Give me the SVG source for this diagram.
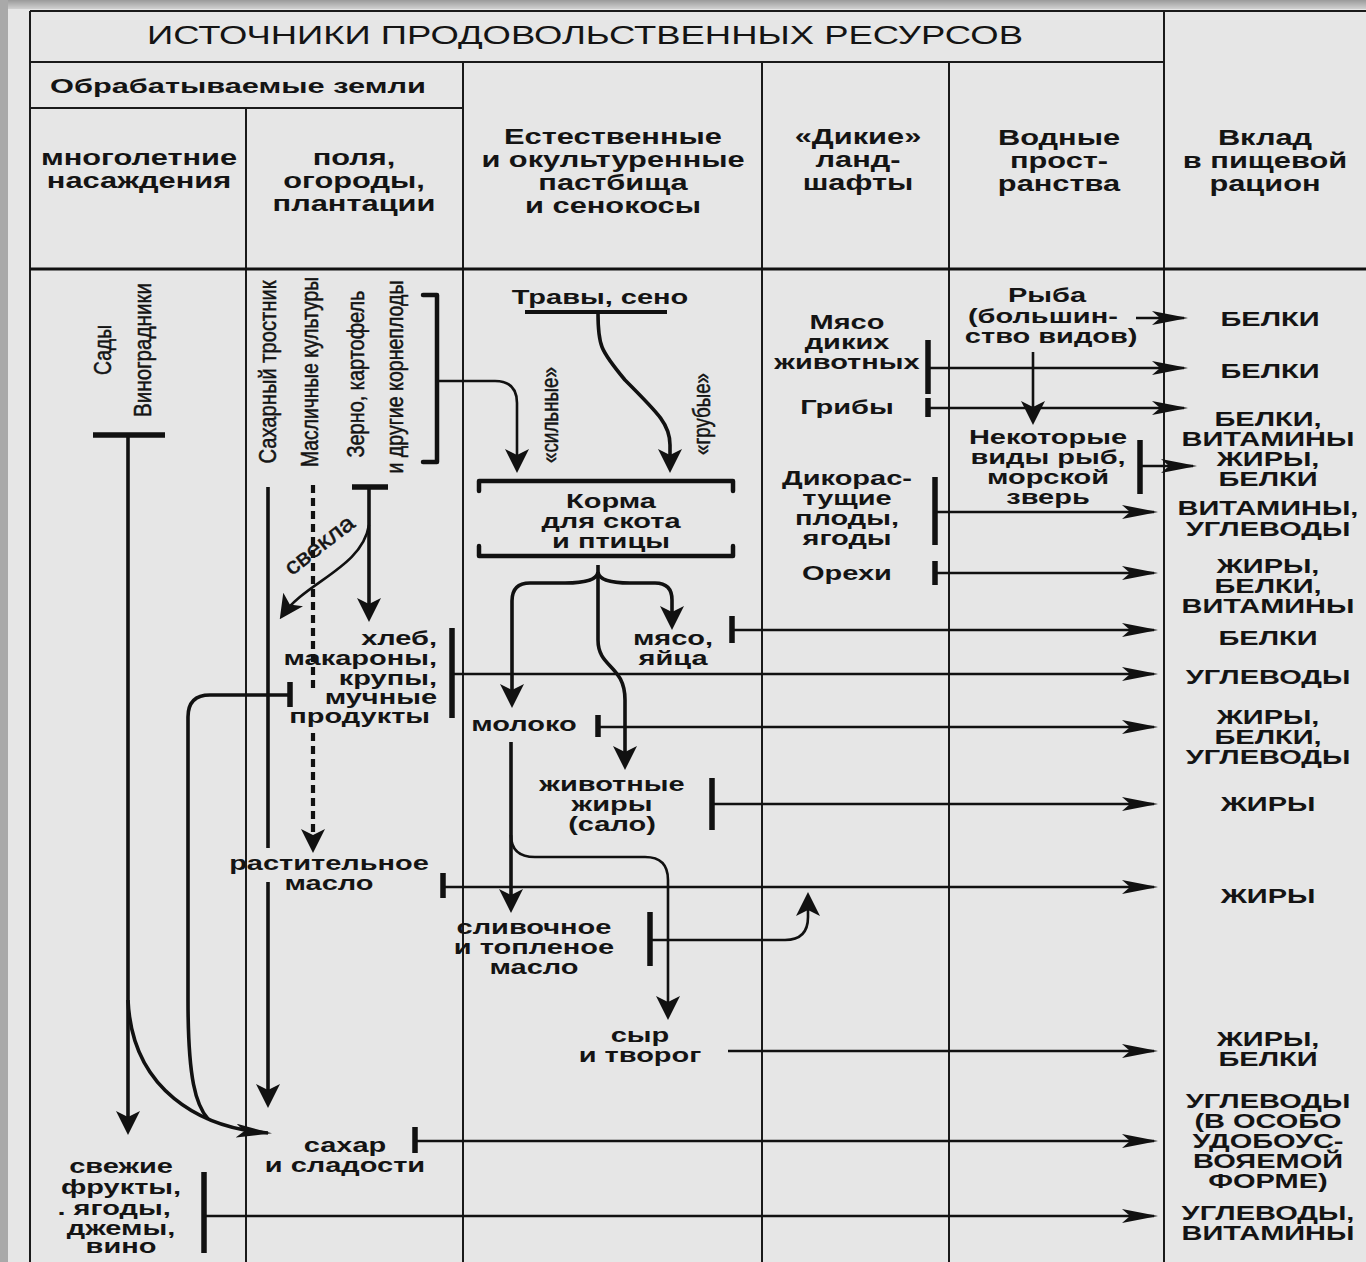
<svg xmlns="http://www.w3.org/2000/svg" width="1366" height="1262" viewBox="0 0 1366 1262">
<defs>
<linearGradient id="topg" x1="0" y1="0" x2="0" y2="1"><stop offset="0" stop-color="#9a9a9a"/><stop offset="1" stop-color="#d0d0d0"/></linearGradient>
<marker id="ah" markerUnits="userSpaceOnUse" viewBox="0 0 36 14" markerWidth="36" markerHeight="14" refX="32" refY="7" orient="auto"><path d="M0,0 L36,7 L0,14 L8,7 z" fill="#111"/></marker>
<marker id="av" markerUnits="userSpaceOnUse" viewBox="0 0 24 24" markerWidth="24" markerHeight="24" refX="20" refY="12" orient="auto"><path d="M0,0 L24,12 L0,24 L6,12 z" fill="#111"/></marker>
<style>
.grid{stroke:#1a1a1a;stroke-width:2;fill:none}
.c{stroke:#111;stroke-width:2.6;fill:none}
.ch{stroke:#111;stroke-width:3.6;fill:none}
.bar{stroke:#111;stroke-width:5.5;fill:none;stroke-linecap:butt}
.brk{stroke:#111;stroke-width:4.5;fill:none;stroke-linejoin:round;stroke-linecap:round}
.dash{stroke:#111;stroke-width:4.2;fill:none;stroke-dasharray:8 5}
.ha{marker-end:url(#ah)}
.va{marker-end:url(#av)}
text{font-family:"Liberation Sans",Arial,Helvetica,sans-serif;fill:#141414}
.b{font-size:21px;font-weight:bold;text-anchor:middle}
.hd{font-size:22px;font-weight:bold;text-anchor:middle}
.vt{font-size:23px;text-anchor:middle;stroke:#141414;stroke-width:0.5}
</style>
</defs>
<rect width="1366" height="1262" fill="#e6e6e6"/>
<rect x="0" y="0" width="1366" height="9" fill="url(#topg)"/>
<rect x="0" y="0" width="8" height="1262" fill="#a9a9a9"/>

<g id="table">
<path class="grid" d="M30,11 H1366 M30,62 H1164 M30,108 H463 M30,11 V1262 M246,108 V1262 M463,62 V1262 M762,62 V1262 M949,62 V1262 M1164,11 V1262"/>
<path stroke="#111" stroke-width="3" d="M30,269 H1366"/>
</g>

<g id="header">
<text x="585" y="44" text-anchor="middle" font-size="25" textLength="876" lengthAdjust="spacingAndGlyphs">ИСТОЧНИКИ ПРОДОВОЛЬСТВЕННЫХ РЕСУРСОВ</text>
<text x="238" y="93" text-anchor="middle" font-size="21" font-weight="bold" textLength="376" lengthAdjust="spacingAndGlyphs">Обрабатываемые земли</text>
<text class="hd" transform="translate(139,165) scale(1.4,1)"><tspan x="0">многолетние</tspan><tspan x="0" dy="23">насаждения</tspan></text>
<text class="hd" transform="translate(354,165) scale(1.4,1)"><tspan x="0">поля,</tspan><tspan x="0" dy="23">огороды,</tspan><tspan x="0" dy="23">плантации</tspan></text>
<text class="hd" transform="translate(613,144) scale(1.4,1)"><tspan x="0">Естественные</tspan><tspan x="0" dy="23">и окультуренные</tspan><tspan x="0" dy="23">пастбища</tspan><tspan x="0" dy="23">и сенокосы</tspan></text>
<text class="hd" transform="translate(858,144) scale(1.4,1)"><tspan x="0">«Дикие»</tspan><tspan x="0" dy="23">ланд-</tspan><tspan x="0" dy="23">шафты</tspan></text>
<text class="hd" transform="translate(1059,145) scale(1.4,1)"><tspan x="0">Водные</tspan><tspan x="0" dy="23">прост-</tspan><tspan x="0" dy="23">ранства</tspan></text>
<text class="hd" transform="translate(1265,145) scale(1.4,1)"><tspan x="0">Вклад</tspan><tspan x="0" dy="23">в пищевой</tspan><tspan x="0" dy="23">рацион</tspan></text>
</g>

<g id="connectors">
<!-- T bars and brackets -->
<path class="bar" d="M93,435 H165 M352,487 H388 M928,340 V394 M928,398 V417 M1140,440 V494 M935,477 V545 M935,561 V585 M732,616 V643 M452,628 V718 M290,682 V707 M598,715 V737 M712,778 V830 M443,873 V898 M650,912 V966 M415,1127 V1153 M204,1172 V1253"/>
<path class="brk" d="M423,295 H437 V462 H423"/>
<path stroke="#111" stroke-width="4" d="M525,312 H667"/>
<path class="brk" stroke-width="4" d="M479,491 V481 H733 V491 M479,546 V556 H733 V546"/>
<!-- vertical flows -->
<path class="ch va" d="M128,435 V1131"/>
<path class="ch" d="M268,487 V848"/>
<path class="ch va" d="M268,882 V1104"/>
<path class="dash" d="M313,485 V690"/>
<path class="dash va" d="M313,733 V849"/>
<path class="ch va" d="M369,487 V618"/>
<path class="c va" d="M369,525 C362,568 305,582 282,616"/>
<path class="c va" d="M437,381 H495 Q517,381 517,403 V469"/>
<path class="ch va" d="M598,313 C598,345 600,350 625,380 C660,415 670,425 670,445 V469"/>
<path class="ch va" d="M598,572 Q597,583 565,583 H530 Q512,583 512,601 V704"/>
<path class="ch va" d="M598,572 Q599,583 630,583 H655 Q672,583 672,600 V626"/>
<path class="ch va" d="M598,565 V640 C598,668 625,665 625,700 V766"/>
<path class="ch va" d="M511,742 V909"/>
<path class="c va" d="M511,835 Q511,857 535,857 H645 Q668,857 668,880 V1016"/>
<path class="c va" d="M650,940 H785 Q808,940 808,917 V896"/>
<path class="c va" d="M1033,352 V421"/>
<path class="ch ha" d="M128,1000 C132,1090 200,1128 268,1133"/>
<path class="ch" d="M290,695 H210 Q188,695 188,717 V1000 C188,1080 196,1105 208,1119"/>
<!-- horizontal flows to diet column -->
<path class="c ha" d="M1136,318 H1184"/>
<path class="c ha" d="M928,368 H1184"/>
<path class="c ha" d="M928,408 H1184"/>
<path class="c ha" d="M1140,466 H1193"/>
<path class="c ha" d="M935,512 H1154"/>
<path class="c ha" d="M935,573 H1154"/>
<path class="c ha" d="M732,630 H1154"/>
<path class="c ha" d="M452,674 H1154"/>
<path class="c ha" d="M598,727 H1154"/>
<path class="c ha" d="M712,804 H1154"/>
<path class="c ha" d="M443,887 H1154"/>
<path class="c ha" d="M728,1051 H1154"/>
<path class="c ha" d="M415,1141 H1154"/>
<path class="c ha" d="M204,1216 H1154"/>
</g>

<g id="n-sady"><text class="vt" transform="translate(111,350) rotate(-90)" textLength="50" lengthAdjust="spacingAndGlyphs">Сады</text></g>
<g id="n-vinogradniki"><text class="vt" transform="translate(151,350) rotate(-90)" textLength="134" lengthAdjust="spacingAndGlyphs">Виноградники</text></g>
<g id="n-trostnik"><text class="vt" transform="translate(276,372) rotate(-90)" textLength="183" lengthAdjust="spacingAndGlyphs">Сахарный тростник</text></g>
<g id="n-maslichnye"><text class="vt" transform="translate(318,372) rotate(-90)" textLength="190" lengthAdjust="spacingAndGlyphs">Масличные культуры</text></g>
<g id="n-zerno"><text class="vt" transform="translate(364,374) rotate(-90)" textLength="167" lengthAdjust="spacingAndGlyphs">Зерно, картофель</text><text class="vt" transform="translate(403,377) rotate(-90)" textLength="193" lengthAdjust="spacingAndGlyphs">и другие корнеплоды</text></g>
<g id="l-svekla"><text class="vt" font-size="21" transform="translate(324,551) rotate(-38)" textLength="82" lengthAdjust="spacingAndGlyphs">свекла</text></g>
<g id="l-silnye"><text class="vt" font-size="21" transform="translate(558,415) rotate(-90)" textLength="96" lengthAdjust="spacingAndGlyphs">«сильные»</text></g>
<g id="l-grubye"><text class="vt" font-size="21" transform="translate(710,414) rotate(-90)" textLength="82" lengthAdjust="spacingAndGlyphs">«грубые»</text></g>

<g id="n-travy"><text class="b" transform="translate(600,304) scale(1.38,1)">Травы, сено</text></g>
<g id="n-korma"><text class="b" transform="translate(611,508) scale(1.38,1)"><tspan x="0">Корма</tspan><tspan x="0" dy="20">для скота</tspan><tspan x="0" dy="20">и птицы</tspan></text></g>
<g id="n-myaso-yaica"><text class="b" transform="translate(673,645) scale(1.38,1)"><tspan x="0">мясо,</tspan><tspan x="0" dy="20">яйца</tspan></text></g>
<g id="n-hleb"><text class="b" style="text-anchor:end" transform="translate(437,645) scale(1.38,1)"><tspan x="0">хлеб,</tspan><tspan x="0" dy="20">макароны,</tspan><tspan x="0" dy="20">крупы,</tspan><tspan x="0" dy="19">мучные</tspan><tspan x="-5" dy="19">продукты</tspan></text></g>
<g id="n-moloko"><text class="b" transform="translate(524,731) scale(1.38,1)">молоко</text></g>
<g id="n-zhiry-zhiv"><text class="b" transform="translate(612,791) scale(1.38,1)"><tspan x="0">животные</tspan><tspan x="0" dy="20">жиры</tspan><tspan x="0" dy="20">(сало)</tspan></text></g>
<g id="n-rastit"><text class="b" transform="translate(329,870) scale(1.38,1)"><tspan x="0">растительное</tspan><tspan x="0" dy="20">масло</tspan></text></g>
<g id="n-slivoch"><text class="b" transform="translate(534,934) scale(1.38,1)"><tspan x="0">сливочное</tspan><tspan x="0" dy="20">и топленое</tspan><tspan x="0" dy="20">масло</tspan></text></g>
<g id="n-syr"><text class="b" transform="translate(640,1042) scale(1.38,1)"><tspan x="0">сыр</tspan><tspan x="0" dy="20">и творог</tspan></text></g>
<g id="n-sahar"><text class="b" transform="translate(345,1152) scale(1.38,1)"><tspan x="0">сахар</tspan><tspan x="0" dy="20">и сладости</tspan></text></g>
<g id="n-svezhie"><text class="b" transform="translate(121,1173) scale(1.38,1)"><tspan x="0">свежие</tspan><tspan x="0" dy="21">фрукты,</tspan><tspan x="-5" dy="21">. ягоды,</tspan><tspan x="0" dy="20">джемы,</tspan><tspan x="0" dy="18">вино</tspan></text></g>

<g id="n-myaso-dikih"><text class="b" transform="translate(847,329) scale(1.38,1)"><tspan x="0">Мясо</tspan><tspan x="0" dy="20">диких</tspan><tspan x="0" dy="20">животных</tspan></text></g>
<g id="n-griby"><text class="b" transform="translate(847,414) scale(1.38,1)">Грибы</text></g>
<g id="n-dikorast"><text class="b" transform="translate(847,485) scale(1.38,1)"><tspan x="0">Дикорас-</tspan><tspan x="0" dy="20">тущие</tspan><tspan x="0" dy="20">плоды,</tspan><tspan x="0" dy="20">ягоды</tspan></text></g>
<g id="n-orehi"><text class="b" transform="translate(847,580) scale(1.38,1)">Орехи</text></g>
<g id="n-ryba"><text class="b" transform="translate(1047,302) scale(1.38,1)"><tspan x="0">Рыба</tspan><tspan x="-3" dy="21">(большин-</tspan><tspan x="3" dy="20">ство видов)</tspan></text></g>
<g id="n-nekotorye"><text class="b" transform="translate(1048,444) scale(1.38,1)"><tspan x="0">Некоторые</tspan><tspan x="0" dy="20">виды рыб,</tspan><tspan x="0" dy="20">морской</tspan><tspan x="0" dy="20">зверь</tspan></text></g>

<g id="diet">
<text class="b" transform="translate(1270,326) scale(1.38,1)">БЕЛКИ</text>
<text class="b" transform="translate(1270,378) scale(1.38,1)">БЕЛКИ</text>
<text class="b" transform="translate(1268,426) scale(1.38,1)"><tspan x="0">БЕЛКИ,</tspan><tspan x="0" dy="20">ВИТАМИНЫ</tspan></text>
<text class="b" transform="translate(1268,466) scale(1.38,1)"><tspan x="0">ЖИРЫ,</tspan><tspan x="0" dy="20">БЕЛКИ</tspan></text>
<text class="b" transform="translate(1268,515) scale(1.38,1)"><tspan x="0">ВИТАМИНЫ,</tspan><tspan x="0" dy="21">УГЛЕВОДЫ</tspan></text>
<text class="b" transform="translate(1268,573) scale(1.38,1)"><tspan x="0">ЖИРЫ,</tspan><tspan x="0" dy="20">БЕЛКИ,</tspan><tspan x="0" dy="20">ВИТАМИНЫ</tspan></text>
<text class="b" transform="translate(1268,645) scale(1.38,1)">БЕЛКИ</text>
<text class="b" transform="translate(1268,684) scale(1.38,1)">УГЛЕВОДЫ</text>
<text class="b" transform="translate(1268,724) scale(1.38,1)"><tspan x="0">ЖИРЫ,</tspan><tspan x="0" dy="20">БЕЛКИ,</tspan><tspan x="0" dy="20">УГЛЕВОДЫ</tspan></text>
<text class="b" transform="translate(1268,811) scale(1.38,1)">ЖИРЫ</text>
<text class="b" transform="translate(1268,903) scale(1.38,1)">ЖИРЫ</text>
<text class="b" transform="translate(1268,1046) scale(1.38,1)"><tspan x="0">ЖИРЫ,</tspan><tspan x="0" dy="20">БЕЛКИ</tspan></text>
<text class="b" transform="translate(1268,1108) scale(1.38,1)"><tspan x="0">УГЛЕВОДЫ</tspan><tspan x="0" dy="20">(В ОСОБО</tspan><tspan x="0" dy="20">УДОБОУС-</tspan><tspan x="0" dy="20">ВОЯЕМОЙ</tspan><tspan x="0" dy="20">ФОРМЕ)</tspan></text>
<text class="b" transform="translate(1268,1220) scale(1.38,1)"><tspan x="0">УГЛЕВОДЫ,</tspan><tspan x="0" dy="20">ВИТАМИНЫ</tspan></text>
</g>
</svg>
